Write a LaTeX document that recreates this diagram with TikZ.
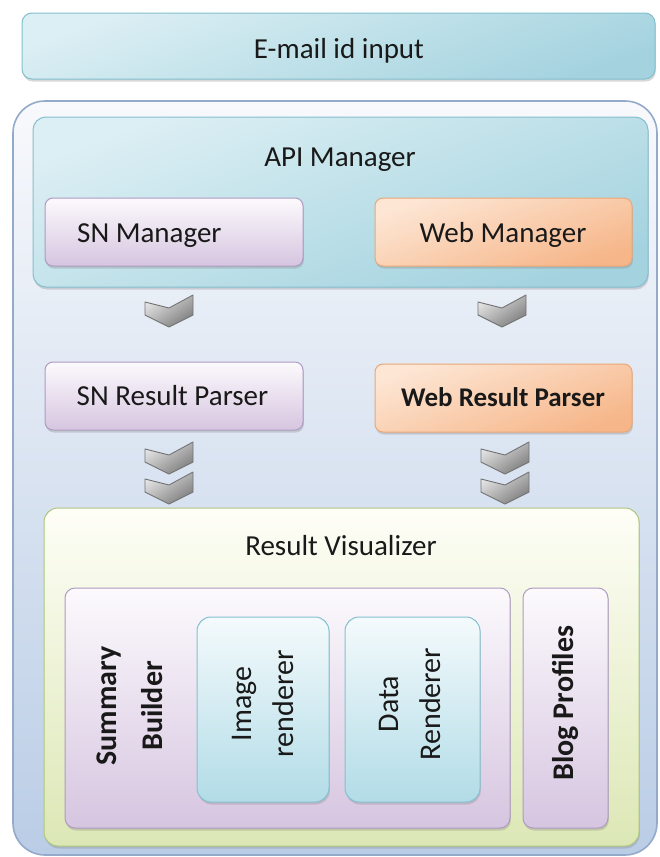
\documentclass[tikz,border=0pt]{standalone}
\usepackage{fontspec}
\setmainfont{Carlito}
\usetikzlibrary{shadows,calc}
\definecolor{outerTop}{HTML}{F8F9FC}
\definecolor{outerBot}{HTML}{BACDE6}
\definecolor{outerLine}{HTML}{94AACB}
\definecolor{tealLight}{HTML}{DCEFF4}
\definecolor{tealDark}{HTML}{A4D3DF}
\definecolor{tealLine}{HTML}{84BFCE}
\definecolor{lavTop}{HTML}{FCFAFD}
\definecolor{lavBot}{HTML}{D6C5E0}
\definecolor{lavLine}{HTML}{AE9AC2}
\definecolor{peachTop}{HTML}{FDE6D4}
\definecolor{peachBot}{HTML}{F6B689}
\definecolor{peachLine}{HTML}{EAA777}
\definecolor{greenTop}{HTML}{FEFEF7}
\definecolor{greenBot}{HTML}{DCE7B5}
\definecolor{greenLine}{HTML}{ADC77F}
\definecolor{blueTop}{HTML}{F4FAFC}
\definecolor{blueBot}{HTML}{B2DCE7}
\definecolor{blueLine}{HTML}{85C0CF}
\definecolor{chevLight}{HTML}{E4E4E4}
\definecolor{chevDark}{HTML}{7E7E7E}
\definecolor{chevLine}{HTML}{737373}
\tikzset{
  box/.style={draw, line width=1pt, inner sep=0pt, rounded corners=8pt},
  shad/.style={drop shadow={shadow xshift=0.8pt, shadow yshift=-2.5pt, opacity=0.3}},
  tealbox/.style={box, shad, draw=tealLine, top color=tealLight, bottom color=tealDark, shading angle=20},
  lavbox/.style={box, shad, draw=lavLine, top color=lavTop, bottom color=lavBot},
  peachbox/.style={box, shad, draw=peachLine, top color=peachTop, bottom color=peachBot, shading angle=20},
  bluebox/.style={box, shad, draw=blueLine, top color=blueTop, bottom color=blueBot},
  txt/.style={inner sep=0pt, font=\fontsize{29}{35}\selectfont, text=black!90},
  btxt/.style={inner sep=0pt, font=\fontsize{27}{33}\selectfont\bfseries, text=black!90},
  rtxt/.style={inner sep=0pt, rotate=90, align=center, text=black!90},
  chevron/.pic={
    \path[draw=chevLine, line width=0.9pt, line join=round, top color=chevLight, bottom color=chevDark, shading angle=35]
      (-24,7) -- (0,13) -- (24,0) -- (24,20) -- (0,32) -- (-24,20) -- cycle;
  }
}
\begin{document}
\begin{tikzpicture}[x=1pt,y=-1pt]
\useasboundingbox (0,0) rectangle (660,857);
\fill[white] (0,0) rectangle (660,857);
% outer container
\node[box, rounded corners=32pt, line width=1.6pt, draw=outerLine, top color=outerTop, bottom color=outerBot,
      minimum width=644pt, minimum height=754pt] (outer) at (335,478) {};
% e-mail input
\node[tealbox, rounded corners=10pt, minimum width=633pt, minimum height=66pt] (email) at (338.5,46) {};
\node[txt, anchor=base] (emailt) at (339,58) {E-mail id input};
% API manager
\node[tealbox, rounded corners=13pt, minimum width=615pt, minimum height=170pt] (api) at (340.5,202) {};
\node[txt, anchor=base] (apit) at (340,166) {API Manager};
\node[lavbox, minimum width=258pt, minimum height=68pt] (snm) at (174,232) {};
\node[txt, anchor=base west] (snmt) at (77,242) {SN Manager};
\node[peachbox, minimum width=257pt, minimum height=68pt] (webm) at (503.5,232) {};
\node[txt, anchor=base] (webmt) at (503,242) {Web Manager};
% chevrons
\pic at (169,295) {chevron};
\pic at (502,295) {chevron};
% parsers
\node[lavbox, minimum width=258pt, minimum height=68pt] (snp) at (174,396) {};
\node[txt, anchor=base] (snpt) at (172.5,405) {SN Result Parser};
\node[peachbox, minimum width=257pt, minimum height=68pt] (webp) at (503.5,398) {};
\node[btxt, anchor=base] (webpt) at (503,406) {Web Result Parser};
% double chevrons
\pic at (169,442) {chevron};
\pic at (169,472) {chevron};
\pic at (505,442) {chevron};
\pic at (505,472) {chevron};
% result visualizer
\node[box, shad, rounded corners=14pt, draw=greenLine, top color=greenTop, bottom color=greenBot,
      minimum width=595pt, minimum height=338pt] (viz) at (341.5,677) {};
\node[txt, anchor=base] (vizt) at (341,555) {Result Visualizer};
% summary builder
\node[lavbox, rounded corners=10pt, minimum width=445pt, minimum height=240pt] (summ) at (287.5,708) {};
\node[rtxt, font=\fontsize{30}{46}\selectfont\bfseries] (summt) at (129.5,706) {Summary\\Builder};
\node[bluebox, rounded corners=14pt, minimum width=132pt, minimum height=185pt] (imgr) at (263,709.5) {};
\node[rtxt, font=\fontsize{30}{42}\selectfont] (imgrt) at (262.5,704) {Image\\renderer};
\node[bluebox, rounded corners=14pt, minimum width=135pt, minimum height=185pt] (datr) at (412.5,709.5) {};
\node[rtxt, font=\fontsize{30}{42}\selectfont] (datrt) at (409.5,704) {Data\\Renderer};
% blog profiles
\node[lavbox, rounded corners=10pt, minimum width=85pt, minimum height=240pt] (blog) at (565.5,708) {};
\node[inner sep=0pt, rotate=90, anchor=base, font=\fontsize{30}{36}\selectfont\bfseries, text=black!90] (blogt) at (573,703) {Blog Profiles};
\end{tikzpicture}
\end{document}
